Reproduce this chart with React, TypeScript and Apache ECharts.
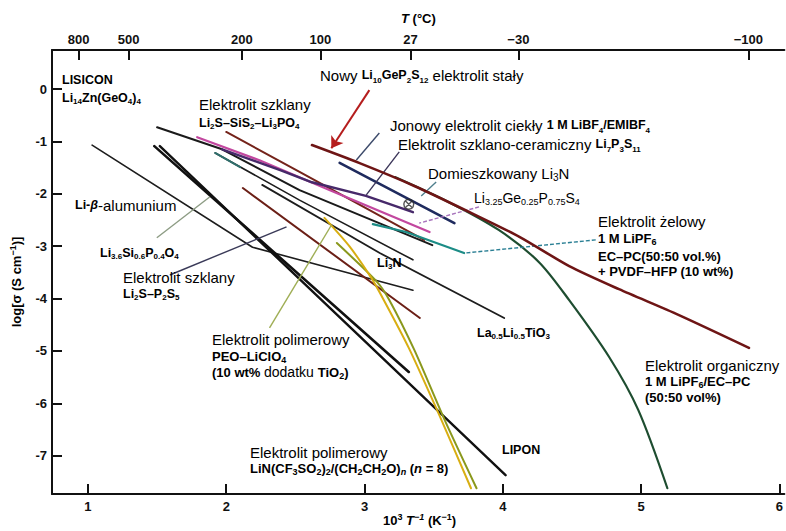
import React, { useEffect, useRef } from 'react';
import * as echarts from 'echarts';

// ---------- axes ----------
const X_MIN = 0.74;
const X_MAX = 6.036;
const Y_MIN = -7.73;
const Y_MAX = 0.745;
const X_TICKS = [1, 2, 3, 4, 5, 6];
const Y_TICKS = [-7, -6, -5, -4, -3, -2, -1, 0];
const T_LABELS = [800, 500, 200, 100, 27, -30, -100]; // °C on the top axis

// ---------- series data: [1000/T (K^-1), log sigma (S/cm)] ----------
const li10GeP2S12 = [[2.62, -1.07], [2.96, -1.41], [3.36, -1.85], [3.76, -2.35], [4.12, -2.82], [4.48, -3.38], [4.84, -3.82], [5.27, -4.31], [5.78, -4.94]];
const organicLiPF6 = [[3.22, -1.68], [3.61, -2.16], [3.97, -2.69], [4.26, -3.30], [4.48, -4.03], [4.77, -5.12], [4.98, -6.13], [5.19, -7.62]];
const ionicLiquid = [[2.82, -1.41], [3.65, -2.56]];
const li7P3S11 = [[1.97, -1.15], [2.39, -1.55], [2.62, -1.78], [3.01, -2.04], [3.35, -2.35]];
const thioLisicon = [[1.79, -0.92], [2.24, -1.36], [2.75, -1.93], [3.47, -2.73]];
const lisicon = [[1.50, -0.73], [1.97, -1.15], [2.53, -1.93], [3.49, -2.98]];
const li2SSiS2Li3PO4 = [[2.00, -0.82], [2.53, -1.58], [3.43, -2.88]];
const li3N = [[1.92, -1.22], [2.53, -2.12], [3.35, -3.26]];
const li3NStart = [[1.92, -1.22], [2.10, -1.49]];
const llto = [[2.26, -1.83], [3.11, -3.13], [4.01, -4.37]];
const liBetaAlumina = [[1.03, -1.07], [2.19, -3.02], [3.35, -3.84]];
const li36Si06P04O4 = [[1.48, -1.09], [3.32, -5.40]];
const lipon = [[1.52, -1.09], [4.02, -7.37]];
const li2SP2S5 = [[2.12, -1.89], [3.40, -4.37]];
const linPolymer = [[2.80, -2.94], [3.09, -3.68], [3.18, -4.03], [3.36, -4.98], [3.58, -6.32], [3.81, -7.62]];
const peoLiClO4 = [[2.71, -2.46], [2.89, -3.00], [3.05, -3.61], [3.14, -4.03], [3.32, -4.94], [3.54, -6.22], [3.77, -7.62]];
const gelElectrolyte = [[3.06, -2.58], [3.30, -2.73], [3.72, -3.13]];
const dopedLi3N = [[3.32, -2.20]];

// ---------- annotation pointers (data coords) ----------
const arrowNew = [[3.035, -0.02], [2.76, -1.13]];
const ptrIonic = [[3.107, -0.84], [2.941, -1.355]];
const ptrCeramic = [[3.251, -1.20], [3.013, -2.02]];
const ptrDoped = [[3.518, -1.775], [3.41, -2.04]];
const ptrThio = [[3.828, -2.25], [3.395, -2.56]];
const ptrGel = [[4.672, -2.88], [3.727, -3.13]];
const ptrLiSi = [[1.498, -2.84], [1.88, -2.06]];
const ptrP2S5 = [[1.592, -3.55], [2.436, -2.63]];
const ptrPeo = [[2.313, -4.56], [2.76, -2.60]];

const FF = '"Liberation Sans", Arial, Helvetica, sans-serif';

const BASE: Record<string, any> = {
  b15: { color: '#222', fontSize: 15 },
  bF: { color: '#161616', fontSize: 12.5, fontWeight: 'bold' },
  bFi: { color: '#161616', fontSize: 12.5, fontWeight: 'bold', fontStyle: 'italic' },
  nowy: { color: '#7d1b1b', fontSize: 15 },
  redF: { color: '#c62a2a', fontSize: 12.5, fontWeight: 'bold' },
  jon: { color: '#1e2142', fontSize: 15 },
  jonF: { color: '#1f2c86', fontSize: 12.5, fontWeight: 'bold' },
  cer: { color: '#5c2f7e', fontSize: 15 },
  cerF: { color: '#3e1d60', fontSize: 12.5, fontWeight: 'bold' },
  ge: { color: '#c964ae', fontSize: 14 },
  gelT: { color: '#2f5058', fontSize: 15 },
  gelF: { color: '#1ea293', fontSize: 13, fontWeight: 'bold' },
  brT: { color: '#6c2b2b', fontSize: 15 },
  brF: { color: '#8d2c12', fontSize: 12.5, fontWeight: 'bold' },
  peoT: { color: '#bcae4c', fontSize: 15 },
  peoT2: { color: '#c4ad45', fontSize: 14 },
  peoF: { color: '#d4a21e', fontSize: 13, fontWeight: 'bold' },
  orgT: { color: '#20392b', fontSize: 15 },
  orgF: { color: '#217c3e', fontSize: 13, fontWeight: 'bold' },
  linT: { color: '#5e6c2c', fontSize: 15 },
  linF: { color: '#8e9d1c', fontSize: 13, fontWeight: 'bold' },
  linFi: { color: '#8e9d1c', fontSize: 13, fontWeight: 'bold', fontStyle: 'italic' },
  ax: { color: '#111', fontSize: 13, fontWeight: 'bold' },
  axI: { color: '#111', fontSize: 13, fontWeight: 'bold', fontStyle: 'italic' },
};

const RICH: Record<string, any> = {};
Object.keys(BASE).forEach((k) => {
  const s = BASE[k];
  const small = Math.round(s.fontSize * 0.66);
  RICH[k] = { ...s, fontFamily: FF, lineHeight: s.fontSize + 3 };
  RICH[k + 'Sub'] = { ...s, fontFamily: FF, fontSize: small, lineHeight: 7, verticalAlign: 'bottom' };
  RICH[k + 'Sup'] = { ...s, fontFamily: FF, fontSize: small, lineHeight: 7, verticalAlign: 'top' };
});

function rich(segs: [string, string][]): string {
  let out = '';
  for (const [k, t] of segs) {
    const re = /([_^])\{([^}]*)\}/g;
    let last = 0;
    let m: RegExpExecArray | null;
    while ((m = re.exec(t))) {
      if (m.index > last) out += `{${k}|${t.slice(last, m.index)}}`;
      out += `{${k}${m[1] === '_' ? 'Sub' : 'Sup'}|${m[2]}}`;
      last = m.index + m[0].length;
    }
    if (last < t.length) out += `{${k}|${t.slice(last)}}`;
  }
  return out;
}

type Lbl = { x: number; y: number; segs: [string, string][]; rot?: number; align?: string };
const LABELS: Lbl[] = [
  { x: 62, y: 80, segs: [['bF', 'LISICON']] },
  { x: 62, y: 98, segs: [['bF', 'Li_{14}Zn(GeO_{4})_{4}']] },
  { x: 320, y: 75, segs: [['nowy', 'Nowy '], ['redF', 'Li_{10}GeP_{2}S_{12}'], ['b15', ' elektrolit stały']] },
  { x: 199, y: 104, segs: [['b15', 'Elektrolit szklany']] },
  { x: 199, y: 123, segs: [['bF', 'Li_{2}S–SiS_{2}–Li_{3}PO_{4}']] },
  { x: 390, y: 125, segs: [['jon', 'Jonowy elektrolit ciekły '], ['jonF', '1 M LiBF_{4}/EMIBF_{4}']] },
  { x: 398, y: 144, segs: [['cer', 'Elektrolit szklano-ceramiczny '], ['cerF', 'Li_{7}P_{3}S_{11}']] },
  { x: 428, y: 173, segs: [['b15', 'Domieszkowany Li_{3}N']] },
  { x: 474, y: 198, segs: [['ge', 'Li_{3.25}Ge_{0.25}P_{0.75}S_{4}']] },
  { x: 598, y: 221, segs: [['gelT', 'Elektrolit żelowy']] },
  { x: 598, y: 238, segs: [['gelF', '1 M LiPF_{6}']] },
  { x: 598, y: 256, segs: [['gelF', 'EC–PC(50:50 vol.%)']] },
  { x: 598, y: 271, segs: [['gelF', '+ PVDF–HFP (10 wt%)']] },
  { x: 75, y: 205, segs: [['bF', 'Li-'], ['bFi', 'β'], ['b15', '-alumunium']] },
  { x: 100, y: 253, segs: [['bF', 'Li_{3.6}Si_{0.6}P_{0.4}O_{4}']] },
  { x: 123, y: 277, segs: [['brT', 'Elektrolit szklany']] },
  { x: 123, y: 294, segs: [['brF', 'Li_{2}S–P_{2}S_{5}']] },
  { x: 377, y: 263, segs: [['bF', 'Li_{3}N']] },
  { x: 212, y: 339, segs: [['peoT', 'Elektrolit polimerowy']] },
  { x: 212, y: 356, segs: [['peoF', 'PEO–LiClO_{4}']] },
  { x: 212, y: 372, segs: [['peoF', '(10 wt% '], ['peoT2', 'dodatku '], ['peoF', 'TiO_{2})']] },
  { x: 477, y: 333, segs: [['bF', 'La_{0.5}Li_{0.5}TiO_{3}']] },
  { x: 645, y: 365, segs: [['orgT', 'Elektrolit organiczny']] },
  { x: 645, y: 381, segs: [['orgF', '1 M LiPF_{6}/EC–PC']] },
  { x: 645, y: 397, segs: [['orgF', '(50:50 vol%)']] },
  { x: 250, y: 452, segs: [['linT', 'Elektrolit polimerowy']] },
  { x: 250, y: 468, segs: [['linF', 'LiN(CF_{3}SO_{2})_{2}/(CH_{2}CH_{2}O)'], ['linFi', '_{n}'], ['linF', ' ('], ['linFi', 'n'], ['linF', ' = 8)']] },
  { x: 502, y: 450, segs: [['bF', 'LIPON']] },
  { x: 401, y: 18, segs: [['axI', 'T'], ['ax', ' (°C)']] },
  { x: 383, y: 520, segs: [['ax', '10^{3} '], ['axI', 'T^{−1}'], ['ax', ' (K^{−1})']] },
  { x: 16, y: 282, rot: Math.PI / 2, align: 'center', segs: [['ax', 'log[σ (S cm^{−1})]']] },
];

function L(name: string, data: number[][], color: string, width: number, smooth: number | boolean = false, extra: any = {}) {
  return {
    type: 'line', name, data, showSymbol: false, symbol: 'none', silent: true, smooth,
    lineStyle: { color, width, cap: 'round', join: 'round' }, emphasis: { disabled: true }, ...extra,
  };
}
function P(name: string, data: number[][], color: string, dashed = false) {
  return {
    type: 'line', name, data, showSymbol: false, symbol: 'none', silent: true,
    lineStyle: { color, width: 1.4, type: dashed ? [4, 2] : 'solid' }, emphasis: { disabled: true }, z: 3,
  };
}

const T_POS = T_LABELS.map((t) => 1000 / (t + 273.15));

const axisFont = { fontFamily: FF, fontWeight: 'bold', fontSize: 13, color: '#111' };

const option: any = {
  animation: false,
  backgroundColor: '#ffffff',
  textStyle: { fontFamily: FF },
  grid: { left: 52, right: 0, top: 50, bottom: 37, containLabel: false },
  xAxis: [
    {
      type: 'value', position: 'bottom', min: X_MIN, max: X_MAX,
      axisLine: { show: true, onZero: false, lineStyle: { color: '#111', width: 2 } },
      axisTick: { show: true, inside: true, length: 10, lineStyle: { color: '#111', width: 2 }, customValues: X_TICKS },
      axisLabel: { ...axisFont, margin: 6, customValues: X_TICKS, formatter: (v: number) => String(v) },
      splitLine: { show: false },
    },
    {
      type: 'value', position: 'top', min: X_MIN, max: X_MAX,
      axisLine: { show: true, onZero: false, lineStyle: { color: '#111', width: 2 } },
      axisTick: { show: true, inside: true, length: 10, lineStyle: { color: '#111', width: 2 }, customValues: T_POS },
      axisLabel: { ...axisFont, margin: 4, customValues: T_POS, formatter: (v: number) => String(Math.round(1000 / v - 273.15)).replace('-', '−') },
      splitLine: { show: false },
    },
  ],
  yAxis: {
    type: 'value', min: Y_MIN, max: Y_MAX,
    axisLine: { show: true, onZero: false, lineStyle: { color: '#111', width: 2 } },
    axisTick: { show: true, inside: true, length: 10, lineStyle: { color: '#111', width: 2 }, customValues: Y_TICKS },
    axisLabel: { ...axisFont, margin: 5, customValues: Y_TICKS, formatter: (v: number) => String(v) },
    splitLine: { show: false },
  },
  series: [
    L('Li-β-alumina', liBetaAlumina, '#1d1d1d', 1.6),
    L('La0.5Li0.5TiO3', llto, '#1d1d1d', 1.8),
    L('Li3N', li3N, '#1d1d1d', 1.6),
    L('Li3N start', li3NStart, '#2f6f6c', 2),
    L('LISICON', lisicon, '#1a1a1a', 2),
    L('Li3.6Si0.6P0.4O4', li36Si06P04O4, '#111', 2.6),
    L('LIPON', lipon, '#111', 2.4),
    L('Li2S-P2S5', li2SP2S5, '#6b1f16', 2),
    L('Li2S-SiS2-Li3PO4', li2SSiS2Li3PO4, '#74231a', 2),
    L('Li3.25Ge0.25P0.75S4', thioLisicon, '#c2479f', 2.2),
    L('Li7P3S11', li7P3S11, '#47296a', 2.4),
    L('1 M LiBF4/EMIBF4', ionicLiquid, '#1f2b5e', 2.6),
    L('Gel electrolyte', gelElectrolyte, '#1c8c86', 2.2),
    L('LiN(CF3SO2)2/(CH2CH2O)n', linPolymer, '#8a981c', 2, 0.25),
    L('PEO-LiClO4', peoLiClO4, '#d8ae12', 2, 0.25),
    L('1 M LiPF6/EC-PC', organicLiPF6, '#1e4d30', 2.2, 0.3),
    L('Li10GeP2S12', li10GeP2S12, '#6e1515', 2.6, 0.25, {
      z: 4,
      markLine: {
        silent: true, animation: false, symbol: ['none', 'arrow'], symbolSize: 11,
        label: { show: false }, emphasis: { disabled: true },
        lineStyle: { color: '#b51d1d', width: 2, type: 'solid' },
        data: [[{ coord: arrowNew[0] }, { coord: arrowNew[1] }]],
      },
    }),
    P('ptr ionic', ptrIonic, '#3c4a6a'),
    P('ptr ceramic', ptrCeramic, '#3a3458'),
    P('ptr doped', ptrDoped, '#4f7f8d'),
    P('ptr thio', ptrThio, '#a874bd', true),
    P('ptr gel', ptrGel, '#2a7f94', true),
    P('ptr LiSi', ptrLiSi, '#8d9c84'),
    P('ptr P2S5', ptrP2S5, '#3a3a58'),
    P('ptr PEO', ptrPeo, '#9fae55'),
    {
      type: 'scatter', name: 'Doped Li3N', data: dopedLi3N, silent: true, z: 5,
      symbol: 'path://M12,2A10,10,0,1,0,12.01,2Z M5,5L19,19 M19,5L5,19', symbolSize: 10,
      itemStyle: { color: 'rgba(255,255,255,0)', borderColor: '#2a2a2a', borderWidth: 1.4 },
      emphasis: { disabled: true },
    },
  ],
  graphic: LABELS.map((l) => ({
    type: 'text', x: l.x, y: l.y, rotation: l.rot || 0, silent: true, z: 100,
    style: {
      text: rich(l.segs), rich: RICH, fontFamily: FF, fontSize: 13,
      align: l.align || 'left', verticalAlign: 'middle',
    },
  })),
};

export default function App() {
  const ref = useRef<HTMLDivElement>(null);
  useEffect(() => {
    if (!ref.current) return;
    const chart = echarts.init(ref.current, null, { renderer: 'svg' });
    chart.setOption(option);
    return () => chart.dispose();
  }, []);
  return (
    <div
      ref={ref}
      style={{ position: 'absolute', left: 0, top: 0, width: 786, height: 531, background: '#fff' }}
    />
  );
}
